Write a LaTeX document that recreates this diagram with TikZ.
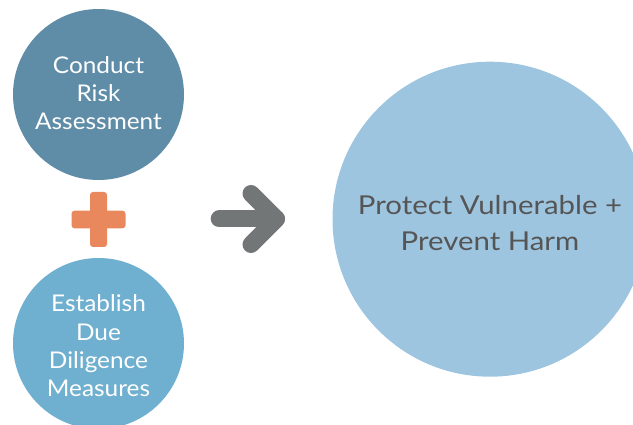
\documentclass[tikz,border=0pt]{standalone}
\usepackage{fontspec}
\setmainfont{Lato}
\newfontfamily\smallfont[FakeStretch=1.06]{Lato}
\newfontfamily\bigfont[FakeStretch=1.13]{Lato}
\definecolor{riskblue}{RGB}{95,141,168}
\definecolor{dueblue}{RGB}{111,175,207}
\definecolor{bigblue}{RGB}{158,197,223}
\definecolor{plusorange}{RGB}{232,136,92}
\definecolor{arrowgray}{RGB}{115,118,119}
\definecolor{textgray}{RGB}{85,85,85}
\begin{document}
\begin{tikzpicture}[x=1pt,y=-1pt,
  disc/.style={circle,inner sep=0pt,draw=none},
  smalltext/.style={text=white,align=center,font=\smallfont\fontsize{23}{28.3}\selectfont},
  bigtext/.style={text=textgray,align=center,font=\bigfont\fontsize{26}{36}\selectfont},
  plusbar/.style={fill=plusorange,rounded corners=3pt}]
\useasboundingbox (0,0) rectangle (633,425);
\node[disc,fill=riskblue,minimum size=171pt] (risk) at (98.5,94.5) {};
\node[smalltext] (risktext) at (98.5,93) {Conduct\\Risk\\Assessment};
\node[disc,fill=dueblue,minimum size=171pt] (due) at (98.5,343.5) {};
\node[smalltext] (duetext) at (98.5,346) {Establish\\Due\\Diligence\\Measures};
\node[disc,fill=bigblue,minimum size=315pt] (big) at (490,219.2) {};
\node[bigtext] (bigtxt) at (490,223) {Protect Vulnerable +\\Prevent Harm};
% plus sign
\coordinate (plus) at (98.5,219.5);
\fill[plusbar] ([shift={(-27,-8.8)}]plus) rectangle ([shift={(27,8.8)}]plus);
\fill[plusbar] ([shift={(-8.5,-27.5)}]plus) rectangle ([shift={(8.5,27.5)}]plus);
% arrow
\coordinate (ashaft) at (219.2,219);
\coordinate (atip) at (276.5,219);
\coordinate (atop) at (251,193.5);
\coordinate (abot) at (251,244.5);
\draw[arrowgray,line width=17pt,line cap=round,line join=round] (ashaft) -- (atip);
\draw[arrowgray,line width=17pt,line cap=round,line join=round] (atop) -- (atip) -- (abot);
\end{tikzpicture}
\end{document}
